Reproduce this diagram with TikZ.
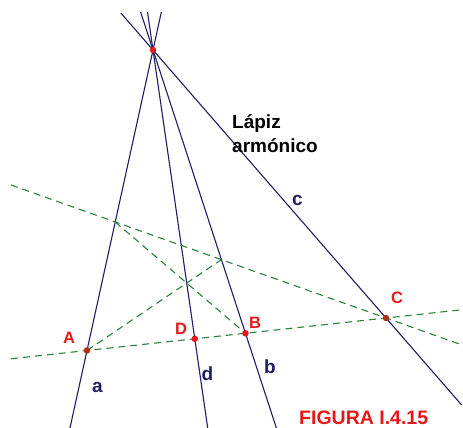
\documentclass[tikz,border=0pt]{standalone}
\usepackage{fontspec}
\setmainfont{Liberation Sans}
\usetikzlibrary{calc}
\definecolor{navy}{RGB}{30,30,100}
\definecolor{gdash}{RGB}{40,130,60}
\definecolor{ptred}{RGB}{230,25,25}
\definecolor{ptbrown}{RGB}{175,50,20}
\begin{document}
\begin{tikzpicture}[x=1pt,y=-1pt,
  pencil/.style={draw=navy,line width=1.1pt},
  gline/.style={draw=gdash,line width=1.1pt,dash pattern=on 7pt off 5pt},
  dotr/.style={circle,fill=ptred,inner sep=0pt,minimum size=6.5pt},
  dotb/.style={circle,fill=ptbrown,inner sep=0pt,minimum size=6.5pt},
  caplab/.style={text=ptred,font=\fontsize{16.5}{18}\selectfont\bfseries,inner sep=0pt},
  lowlab/.style={text=navy,font=\fontsize{19}{21}\selectfont\bfseries,inner sep=0pt},
  title/.style={text=black,font=\fontsize{19}{22}\selectfont\bfseries,inner sep=0pt,anchor=base west},
  figlab/.style={text=ptred,font=\fontsize{19.5}{22}\selectfont\bfseries,inner sep=0pt,anchor=base west}]
\useasboundingbox[fill=white] (0,0) rectangle (463,428);
% geometry
\coordinate (O) at (153,50);
\coordinate (A) at (87,350.5);
\coordinate (C) at (386,318);
\coordinate (B) at ($(A)!0.53!(C)$);
\coordinate (S) at (11,185);
\coordinate (P) at (intersection of O--A and C--S);
\coordinate (Q) at (intersection of O--B and C--S);
\coordinate (R) at (intersection of A--Q and P--B);
\coordinate (D) at (intersection of O--R and A--C);
% pencil lines
\begin{scope}
  \clip (0,13) rectangle (463,428);
  \draw[pencil] ($(O)!-0.2!(A)$) -- ($(O)!1.5!(A)$);
  \draw[pencil] ($(O)!-0.2!(B)$) -- ($(O)!1.5!(B)$);
  \draw[pencil] ($(O)!-0.2!(D)$) -- ($(O)!1.5!(D)$);
\end{scope}
\draw[pencil] ($(O)!-0.138!(C)$) -- ($(O)!1.3246!(C)$);
% green dashed lines
\draw[gline] ($(A)!-0.2542!(C)$) -- ($(A)!1.2475!(C)$);
\draw[gline] (S) -- ($(S)!1.1973!(C)$);
\draw[gline] (P) -- (B);
\draw[gline] (A) -- (Q);
% points
\node[dotr] (nO) at (O) {};
\node[dotb] (nA) at (A) {};
\node[dotr] (nB) at (B) {};
\node[dotb] (nC) at (C) {};
\node[dotr] (nD) at (D) {};
% labels
\node[caplab] (lA) at (69,337.5) {A};
\node[caplab] (lD) at (181,329) {D};
\node[caplab] (lB) at (255,322.5) {B};
\node[caplab] (lC) at (397,298) {C};
\node[lowlab] (la) at (97.5,387) {a};
\node[lowlab] (ld) at (207.5,373.5) {d};
\node[lowlab] (lb) at (270,366.5) {b};
\node[lowlab] (lc) at (297.5,200) {c};
\node[title] (t1) at (232,128) {Lápiz};
\node[title] (t2) at (232,152) {armónico};
\node[figlab] (fig) at (299,424) {FIGURA I.4.15};
\end{tikzpicture}
\end{document}
